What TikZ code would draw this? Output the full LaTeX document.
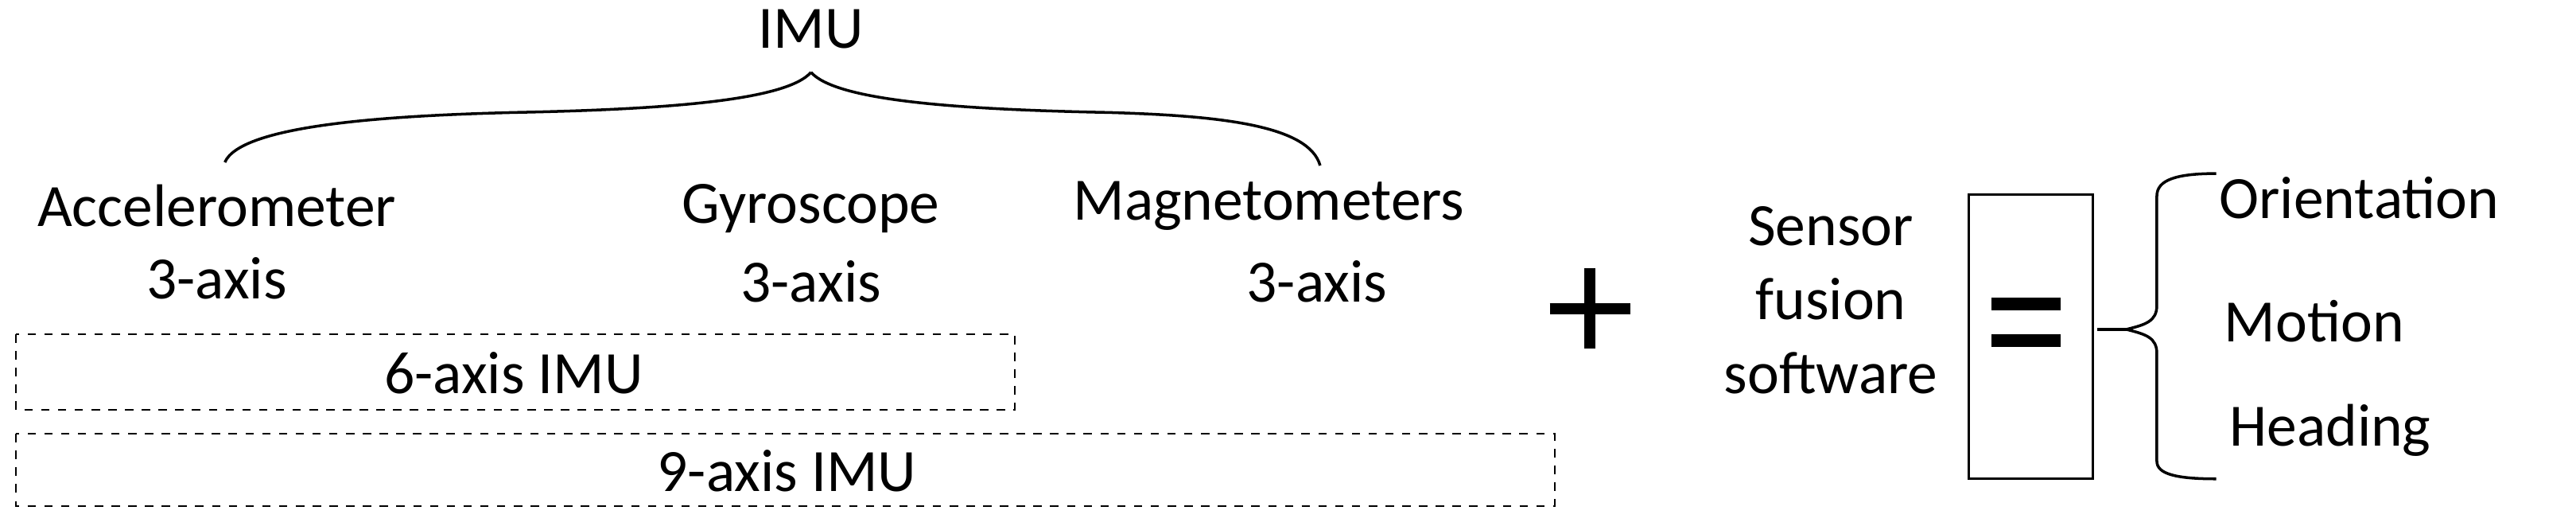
\documentclass[tikz,border=0pt]{standalone}
\usepackage{fontspec}
\setmainfont{Carlito}
\begin{document}
\begin{tikzpicture}[x=0.0202cm,y=-0.0202cm,
  lbl/.style={inner sep=0pt,font=\fontsize{21.5}{25}\selectfont,align=center},
  dbox/.style={draw,dashed,line width=0.6pt},
  br/.style={line width=1pt}]
\useasboundingbox (0,0) rectangle (1604,327);
\node[lbl] (imu) at (505,18) {IMU};
\coordinate (cusp) at (505,45);
\coordinate (bl) at (140,101);
\coordinate (brt) at (822,103);
\draw[br] (bl) .. controls (150,78) and (240,72) .. (320,70) .. controls (420,68) and (490,62) .. (cusp);
\draw[br] (brt) .. controls (815,78) and (760,72) .. (690,70) .. controls (590,68) and (520,62) .. (cusp);
\node[lbl] (acc) at (135,128) {Accelerometer};
\node[lbl] (acc3) at (135,173) {3-axis};
\node[lbl] (gyr) at (505,130) {Gyroscope};
\node[lbl] (gyr3) at (505,175) {3-axis};
\node[lbl] (mag) at (790,128) {Magnetometers};
\node[lbl] (mag3) at (820,175) {3-axis};
\draw[dbox] (10,208) rectangle (632,255);
\node[lbl] (six) at (320,232) {6-axis IMU};
\draw[dbox] (10,270) rectangle (968,315);
\node[lbl] (nine) at (490,293) {9-axis IMU};
\draw[line width=4pt] (965,192) -- (1015,192) (990,167) -- (990,217);
\node[lbl,font=\fontsize{21.5}{26.5}\selectfont] (sfs) at (1140,187) {Sensor\\fusion\\software};
\draw[line width=0.9pt] (1226,121) rectangle (1303,298);
\fill (1240,185) rectangle (1283,193);
\fill (1240,208) rectangle (1283,216);
\coordinate (bc) at (1324,205);
\draw[line width=1.2pt] (1306,205) -- (bc);
\draw[br] (bc) .. controls (1336,202) and (1343,200) .. (1343,190) -- (1343,122) .. controls (1343,112) and (1355,108) .. (1380,108);
\draw[br] (bc) .. controls (1336,208) and (1343,210) .. (1343,220) -- (1343,287) .. controls (1343,295) and (1355,298) .. (1380,298);
\node[lbl] (ori) at (1469,123) {Orientation};
\node[lbl] (mot) at (1441,200) {Motion};
\node[lbl] (hea) at (1451,268) {Heading};
\end{tikzpicture}
\end{document}
